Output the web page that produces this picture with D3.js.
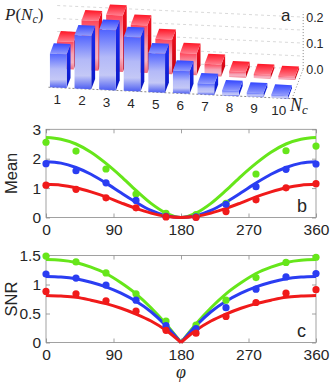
<!DOCTYPE html>
<html>
<head>
<meta charset="utf-8">
<script src="https://cdn.jsdelivr.net/npm/d3@7.9.0/dist/d3.min.js"></script>
<style>
  body { margin: 0; background: #fff; }
  text { font-family: "Liberation Sans", Arial, sans-serif; fill: #262626; }
  .math { font-family: "Liberation Serif", "DejaVu Serif", serif; font-style: italic; }
</style>
</head>
<body>
<svg id="fig" width="332" height="382"></svg>
<script>
// ---- panel a: distribution of N_c ----
const nc = [1, 2, 3, 4, 5, 6, 7, 8, 9, 10];
const probBlue = [0.117, 0.184, 0.207, 0.186, 0.134, 0.078, 0.038, 0.018, 0.014, 0.011];
const probRed = [0.102, 0.184, 0.209, 0.176, 0.128, 0.080, 0.044, 0.021, 0.015, 0.012];
const probTicks = [0, 0.1, 0.2];
const probGrid = [0, 0.05, 0.1, 0.15, 0.2];

// ---- panels b, c: phase dependence ----
const phiTicks = [0, 90, 180, 270, 360];
const phiPts = [0, 40, 80, 120, 160, 200, 240, 280, 320, 360];
const phiFit = [0, 20, 40, 60, 80, 100, 120, 140, 160, 180, 200, 220, 240, 260, 280, 300, 320, 340, 360];

const meanTicks = [0, 1, 2, 3];
const meanGreenPts = [2.56, 2.26, 1.65, 0.80, 0.14, 0.10, 0.48, 1.48, 2.27, 2.43];
const meanBluePts = [1.83, 1.59, 1.18, 0.58, 0.04, 0.02, 0.45, 1.05, 1.64, 1.82];
const meanRedPts = [1.10, 0.96, 0.67, 0.33, 0.02, 0.00, 0.20, 0.60, 1.01, 1.15];
const meanGreenFit = [2.72, 2.66, 2.50, 2.22, 1.84, 1.40, 0.92, 0.48, 0.15, 0, 0.15, 0.48, 0.92, 1.40, 1.84, 2.22, 2.50, 2.66, 2.72];
const meanBlueFit = [1.90, 1.85, 1.70, 1.47, 1.17, 0.84, 0.52, 0.24, 0.06, 0, 0.06, 0.24, 0.52, 0.84, 1.17, 1.47, 1.70, 1.85, 1.90];
const meanRedFit = [1.13, 1.10, 1.01, 0.87, 0.70, 0.50, 0.31, 0.15, 0.04, 0, 0.04, 0.15, 0.31, 0.50, 0.70, 0.87, 1.01, 1.10, 1.13];

const snrTicks = [0, 0.5, 1, 1.5];
const snrGreenPts = [1.49, 1.39, 1.20, 0.84, 0.37, 0.30, 0.73, 1.12, 1.38, 1.47];
const snrBluePts = [1.18, 1.11, 0.99, 0.73, 0.29, 0.24, 0.60, 0.92, 1.13, 1.19];
const snrRedPts = [0.88, 0.84, 0.72, 0.54, 0.21, 0.16, 0.45, 0.69, 0.85, 0.91];
const snrGreenFit = [1.43, 1.42, 1.38, 1.30, 1.19, 1.03, 0.84, 0.60, 0.32, 0, 0.32, 0.60, 0.84, 1.03, 1.19, 1.30, 1.38, 1.42, 1.43];
const snrBlueFit = [1.14, 1.13, 1.10, 1.04, 0.96, 0.85, 0.71, 0.53, 0.29, 0, 0.29, 0.53, 0.71, 0.85, 0.96, 1.04, 1.10, 1.13, 1.14];
const snrRedFit = [0.81, 0.80, 0.78, 0.73, 0.67, 0.59, 0.49, 0.37, 0.21, 0, 0.21, 0.37, 0.49, 0.59, 0.67, 0.73, 0.78, 0.80, 0.81];

const green = '#66e61a', blue = '#2a3df2', red = '#f01a1a';

const svg = d3.select('#fig');
const defs = svg.append('defs');

// gradients for the 3d bars
function grad(id, stops) {
  const g = defs.append('linearGradient').attr('id', id)
    .attr('x1', 0).attr('y1', 0).attr('x2', 0).attr('y2', 1);
  stops.forEach(([o, c]) => g.append('stop').attr('offset', o).attr('stop-color', c));
}
grad('blueFront', [[0, '#5063ff'], [0.45, '#b3b9f8'], [0.75, '#c4c8f6'], [1, '#4d5ef2']]);
grad('blueTop', [[0, '#3246ff'], [1, '#939cfb']]);
grad('blueSide', [[0, '#1a2df2'], [1, '#0a18c4']]);
grad('redFront', [[0, '#ff4458'], [0.45, '#f5a2b4'], [0.75, '#f7b2c2'], [1, '#f0687a']]);
grad('redTop', [[0, '#ff1424'], [1, '#ff7e8e']]);
grad('redSide', [[0, '#f2101e'], [1, '#c20010']]);

// ---------- panel a ----------
const xN = d3.scaleLinear().domain([1, 10]).range([58.3, 279.7]);
const yN = d3.scaleLinear().domain([1, 10]).range([87.7, 98.1]);
const depthX = 7, depthY = 18.5;
const zFront = d3.scaleLinear().domain([0, 1]).range([0, 290]);
const zBack = d3.scaleLinear().domain([0, 1]).range([0, 270]);
const zWall = d3.scaleLinear().domain([0, 1]).range([0, 260]);
const halfW = 0.34, barDepth = 0.55, wallDepth = 1.6;

function proj(n, d, h) {
  return [xN(n) + depthX * d, yN(n) - depthY * d - h];
}
const pts = (arr) => arr.map((p) => p.join(',')).join(' ');

const pa = svg.append('g');

// back wall grid
probGrid.forEach((p) => {
  const a = proj(0.5, wallDepth, zWall(p));
  const b = proj(10.5, wallDepth, zWall(p));
  pa.append('line').attr('x1', a[0]).attr('y1', a[1]).attr('x2', b[0]).attr('y2', b[1])
    .attr('stroke', '#c8c8c8').attr('stroke-width', 0.7).attr('stroke-dasharray', '3,3');
});

// floor edges
{
  const f0 = proj(0.6, 0, 0), f1 = proj(10.5, 0, 0), f2 = proj(10.5, wallDepth, 0);
  const axTop = proj(10.5, wallDepth, zWall(0.22));
  pa.append('line').attr('x1', f0[0]).attr('y1', f0[1]).attr('x2', f1[0]).attr('y2', f1[1])
    .attr('stroke', '#555').attr('stroke-width', 0.7).attr('stroke-dasharray', '2,2');
  pa.append('line').attr('x1', f1[0]).attr('y1', f1[1]).attr('x2', f2[0]).attr('y2', f2[1])
    .attr('stroke', '#555').attr('stroke-width', 0.7).attr('stroke-dasharray', '1,2');
  pa.append('line').attr('x1', f2[0]).attr('y1', f2[1]).attr('x2', axTop[0]).attr('y2', axTop[1])
    .attr('stroke', '#555').attr('stroke-width', 0.7).attr('stroke-dasharray', '1,2');
}

// wall tick labels
probTicks.forEach((p) => {
  const a = proj(10.5, wallDepth, zWall(p));
  pa.append('text').attr('x', a[0] + 3).attr('y', a[1] + 4.5)
    .attr('font-size', 12.5).text(p.toFixed(1));
});

// bars, back row first
const rows = [
  { vals: probRed, d0: 1, z: zBack, c: 'red' },
  { vals: probBlue, d0: 0, z: zFront, c: 'blue' }
];
rows.forEach((row) => {
  nc.forEach((n, k) => {
    const h = row.z(row.vals[k]);
    const d0 = row.d0, d1 = row.d0 + barDepth;
    const l = n - halfW, r = n + halfW;
    const g = pa.append('g');
    g.append('polygon').attr('points', pts([proj(r, d0, 0), proj(r, d1, 0), proj(r, d1, h), proj(r, d0, h)]))
      .attr('fill', `url(#${row.c}Side)`);
    g.append('polygon').attr('points', pts([proj(l, d0, h), proj(r, d0, h), proj(r, d1, h), proj(l, d1, h)]))
      .attr('fill', `url(#${row.c}Top)`);
    g.append('polygon').attr('points', pts([proj(l, d0, 0), proj(r, d0, 0), proj(r, d0, h), proj(l, d0, h)]))
      .attr('fill', `url(#${row.c}Front)`);
  });
});

// N_c tick labels
nc.forEach((n) => {
  pa.append('text').attr('x', xN(n) - 1).attr('y', yN(n) + 16.5)
    .attr('text-anchor', 'middle').attr('font-size', 13.5).text(n);
});

pa.append('text').attr('class', 'math').attr('x', 290).attr('y', 111).attr('font-size', 18)
  .html('N<tspan font-size="13" dy="3">c</tspan>');
pa.append('text').attr('class', 'math').attr('x', 5).attr('y', 20).attr('font-size', 17)
  .html('P<tspan font-style="normal">(</tspan>N<tspan font-size="12" dy="3">c</tspan><tspan dy="-3" font-style="normal">)</tspan>');
pa.append('text').attr('x', 281).attr('y', 21).attr('font-size', 17).text('a');

// ---------- panels b and c ----------
const xPhi = d3.scaleLinear().domain([0, 360]).range([46, 316]);

function panel(cfg) {
  const y = d3.scaleLinear().domain(cfg.domain).range(cfg.range);
  const g = svg.append('g');
  const [x0, x1] = xPhi.range();
  const [yb, yt] = y.range();

  const fmt = (d) => String(d);
  const axStyle = (sel) => {
    sel.selectAll('.domain').remove();
    sel.selectAll('.tick line').attr('stroke', '#8a8a8a').attr('stroke-width', 0.8);
    sel.selectAll('.tick text').attr('font-size', 15.5).attr('fill', '#262626')
      .attr('font-family', '"Liberation Sans", Arial, sans-serif');
  };
  g.append('g').attr('transform', `translate(0,${yb})`)
    .call(d3.axisBottom(xPhi).tickValues(phiTicks).tickSizeInner(-4).tickSizeOuter(0).tickPadding(6).tickFormat(fmt))
    .call(axStyle);
  g.append('g').attr('transform', `translate(0,${yt})`)
    .call(d3.axisTop(xPhi).tickValues(phiTicks).tickSizeInner(-4).tickSizeOuter(0).tickFormat(''))
    .call(axStyle);
  g.append('g').attr('transform', `translate(${x0},0)`)
    .call(d3.axisLeft(y).tickValues(cfg.ticks).tickSizeInner(-4).tickSizeOuter(0).tickPadding(5).tickFormat(fmt))
    .call(axStyle);
  g.append('g').attr('transform', `translate(${x1},0)`)
    .call(d3.axisRight(y).tickValues(cfg.ticks).tickSizeInner(-4).tickSizeOuter(0).tickFormat(''))
    .call(axStyle);
  g.append('rect').attr('x', x0).attr('y', yt).attr('width', x1 - x0).attr('height', yb - yt)
    .attr('fill', 'none').attr('stroke', '#8a8a8a').attr('stroke-width', 0.8);

  const line = d3.line().x((d) => xPhi(d[0])).y((d) => y(d[1])).curve(d3.curveMonotoneX);

  cfg.series.forEach((s) => {
    const fit = phiFit.map((p, i) => [p, s.fit[i]]);
    const segs = cfg.cusp
      ? [fit.filter((d) => d[0] <= 180), fit.filter((d) => d[0] >= 180)]
      : [fit];
    segs.forEach((seg) => {
      g.append('path').attr('d', line(seg)).attr('fill', 'none')
        .attr('stroke', s.color).attr('stroke-width', 3).attr('stroke-linejoin', 'round');
    });
  });
  cfg.series.forEach((s) => {
    g.append('g').selectAll('circle').data(phiPts.map((p, i) => [p, s.pts[i]])).join('circle')
      .attr('cx', (d) => xPhi(d[0])).attr('cy', (d) => y(d[1])).attr('r', 3.6).attr('fill', s.color);
  });

  g.append('text').attr('transform', `translate(${cfg.labelX},${(yb + yt) / 2}) rotate(-90)`)
    .attr('text-anchor', 'middle').attr('font-size', 16.5).text(cfg.label);
  g.append('text').attr('x', cfg.tag[0]).attr('y', cfg.tag[1]).attr('font-size', 18).text(cfg.tagText);
}

panel({
  domain: [0, 3], range: [217.5, 129.3], ticks: meanTicks, label: 'Mean', labelX: 17,
  tag: [297, 212], tagText: 'b', cusp: false,
  series: [
    { color: green, pts: meanGreenPts, fit: meanGreenFit },
    { color: blue, pts: meanBluePts, fit: meanBlueFit },
    { color: red, pts: meanRedPts, fit: meanRedFit }
  ]
});

panel({
  domain: [0, 1.5], range: [342.5, 255.5], ticks: snrTicks, label: 'SNR', labelX: 17,
  tag: [297, 337], tagText: 'c', cusp: true,
  series: [
    { color: green, pts: snrGreenPts, fit: snrGreenFit },
    { color: blue, pts: snrBluePts, fit: snrBlueFit },
    { color: red, pts: snrRedPts, fit: snrRedFit }
  ]
});

svg.append('text').attr('class', 'math').attr('x', 181).attr('y', 378)
  .attr('text-anchor', 'middle').attr('font-size', 18).text('φ');
</script>
</body>
</html>
